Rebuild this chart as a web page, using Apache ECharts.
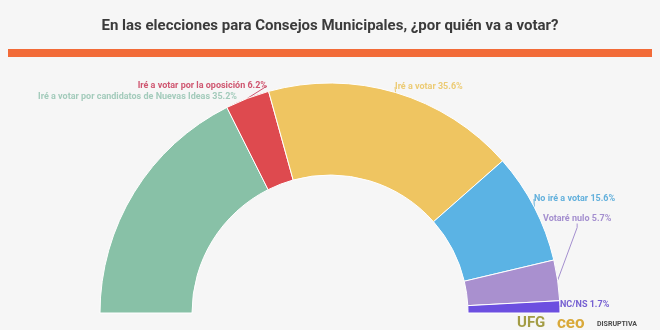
<!DOCTYPE html>
<html><head><meta charset="utf-8">
<script src="https://cdn.jsdelivr.net/npm/echarts@6/dist/echarts.min.js"></script>
<style>html,body{margin:0;padding:0;background:#f6f6f6}#c{width:660px;height:330px}</style>
</head><body><div id="c"></div>
<script>
const titleText = 'En las elecciones para Consejos Municipales, ¿por quién va a votar?';
const categories = ['Iré a votar por candidatos de Nuevas Ideas','Iré a votar por la oposición','Iré a votar','No iré a votar','Votaré nulo','NC/NS'];
const values = [35.2, 6.2, 35.6, 15.6, 5.7, 1.7];
const colors = ['#88c1a7','#de4a4f','#efc561','#5bb3e4','#a990cf','#6c4fe0'];
const labelColors = ['#a3cbbb','#cf5670','#eccb74','#62b0dc','#a48fcf','#7660d2'];
const showLines = [false, true, true, true, true, true];
// label placement (layout only)
const labelPos = [
  {x:237,y:97,align:'right'},
  {x:267,y:86,align:'right'},
  {x:395,y:87,align:'left'},
  {x:534,y:199,align:'left'},
  {x:543,y:219,align:'left'},
  {x:560,y:305,align:'left'}
];
const chart = echarts.init(document.getElementById('c'), null, {renderer:'canvas'});
chart.setOption({
  backgroundColor:'#f6f6f6',
  animation:false,
  title:{text:titleText,left:'center',top:14,textStyle:{fontFamily:'Roboto',fontSize:15,fontWeight:'bold',color:'#3b3b3b'}},
  graphic:[
    {type:'rect',shape:{x:8,y:49,width:644,height:8},style:{fill:'#f26b38'}},
    {type:'text',style:{x:517,y:316,text:'UFG',fill:'#a39c45',font:'bold 15px Roboto'}},
    {type:'text',style:{x:557,y:315,text:'ceo',fill:'#d9a93a',font:'bold 17px Roboto'}},
    {type:'text',style:{x:597,y:321,text:'DISRUPTIVA',fill:'#4a4a4a',font:'bold 7px Roboto'}}
  ],
  series:[{
    type:'pie',
    center:[330,313],
    radius:[138,230],
    startAngle:180,
    endAngle:360,
    itemStyle:{borderColor:'#ffffff',borderWidth:1},
    label:{show:true,position:'outside',formatter:'{b} {c}%',overflow:'none',fontFamily:'Roboto',fontSize:9,fontWeight:'bold'},
    labelLine:{show:true,length:4,length2:4,lineStyle:{width:1}},
    labelLayout:function(p){const l=labelPos[p.dataIndex];return {x:l.x,y:l.y,align:l.align,verticalAlign:'middle'};},
    data:categories.map((n,i)=>({name:n,value:values[i],itemStyle:{color:colors[i]},label:{color:labelColors[i]},labelLine:{show:showLines[i],lineStyle:{color:labelColors[i]}}}))
  }]
});
</script></body></html>
